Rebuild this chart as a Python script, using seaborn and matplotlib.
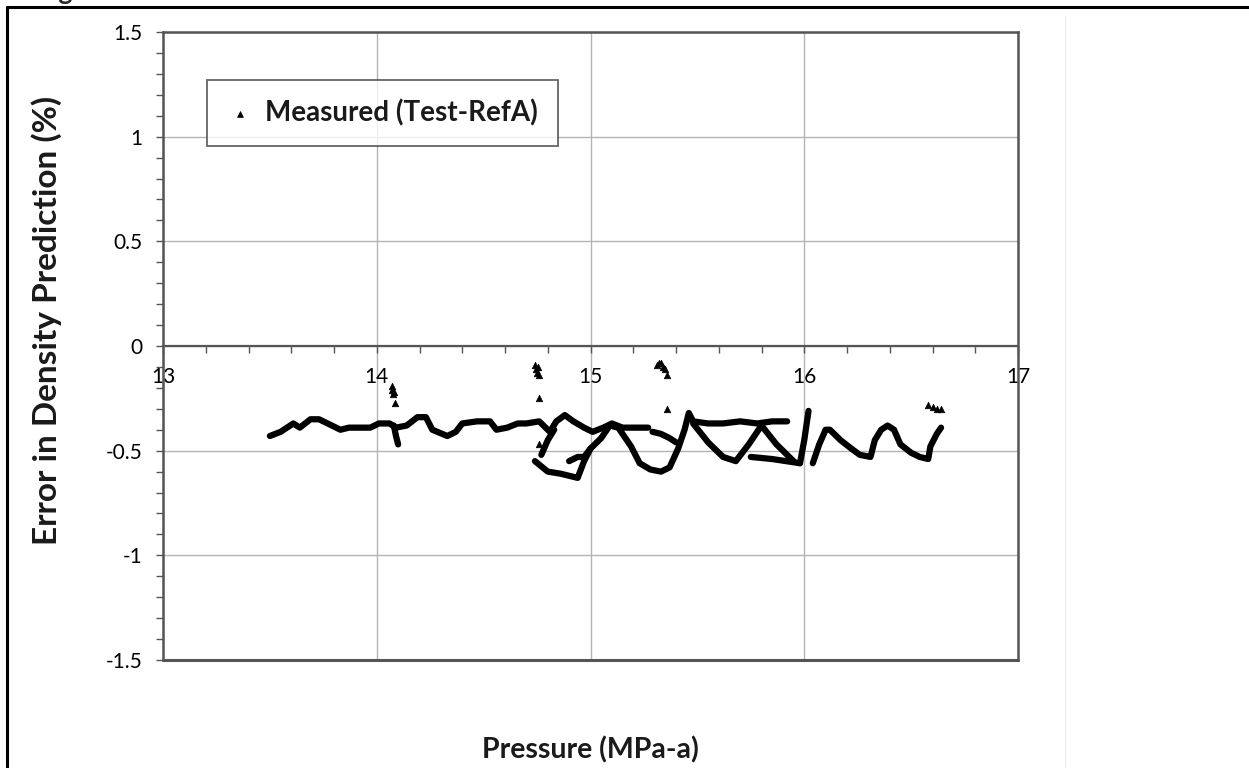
import numpy as np
import pandas as pd
import seaborn as sns
import matplotlib.pyplot as plt
from matplotlib.ticker import MultipleLocator, FuncFormatter
from matplotlib.lines import Line2D

# ---------------- data ----------------
x_ticks = [13, 14, 15, 16, 17]
y_ticks = [-1.5, -1, -0.5, 0, 0.5, 1, 1.5]
series_label = "Measured (Test-RefA)"
x_label = "Pressure (MPa-a)"
y_label = "Error in Density Prediction (%)"

# main band 13.5 -> 15.27
a_x = [13.50, 13.55, 13.61, 13.64, 13.69, 13.73, 13.77, 13.83, 13.87, 13.92, 13.97, 14.01,
       14.06, 14.09, 14.14, 14.19, 14.23, 14.26, 14.33, 14.37, 14.40, 14.47, 14.53, 14.56,
       14.61, 14.66, 14.70, 14.76, 14.81, 14.84, 14.88, 14.92, 14.97, 15.01, 15.06, 15.10,
       15.15, 15.22, 15.27]
a_y = [-0.43, -0.41, -0.37, -0.39, -0.35, -0.35, -0.37, -0.40, -0.39, -0.39, -0.39, -0.37,
       -0.37, -0.39, -0.38, -0.34, -0.34, -0.40, -0.43, -0.41, -0.37, -0.36, -0.36, -0.40,
       -0.39, -0.37, -0.37, -0.36, -0.41, -0.36, -0.33, -0.36, -0.39, -0.41, -0.39, -0.37,
       -0.39, -0.39, -0.39]
# lower loop and upper band 15.47 -> 15.92
b_x = [14.74, 14.80, 14.86, 14.94, 14.97, 15.00, 15.05, 15.09, 15.13, 15.19, 15.23, 15.28,
       15.33, 15.37, 15.41, 15.44, 15.46, 15.48, 15.55, 15.62, 15.70, 15.78, 15.85, 15.92]
b_y = [-0.55, -0.60, -0.61, -0.63, -0.55, -0.49, -0.44, -0.38, -0.39, -0.48, -0.56, -0.59,
       -0.60, -0.58, -0.49, -0.40, -0.32, -0.36, -0.37, -0.37, -0.36, -0.37, -0.36, -0.36]
c_x = [14.77, 14.80, 14.83]
c_y = [-0.52, -0.45, -0.40]
c2_x = [14.90, 14.94, 14.97, 15.00]
c2_y = [-0.55, -0.53, -0.53, -0.49]
d_x = [15.29, 15.33, 15.37, 15.40]
d_y = [-0.41, -0.42, -0.44, -0.46]
e1_x = [15.48, 15.55, 15.62, 15.68, 15.74, 15.80]
e1_y = [-0.37, -0.46, -0.53, -0.55, -0.47, -0.38]
e2_x = [15.80, 15.87, 15.95]
e2_y = [-0.38, -0.47, -0.55]
e3_x = [15.75, 15.85, 15.98]
e3_y = [-0.53, -0.54, -0.56]
f_x = [14.08, 14.09, 14.10]
f_y = [-0.38, -0.43, -0.47]
g_x = [15.98, 16.00, 16.02]
g_y = [-0.56, -0.45, -0.31]
h_x = [16.04, 16.07, 16.10, 16.12, 16.17, 16.22, 16.26, 16.31, 16.33, 16.36, 16.39, 16.42,
       16.45, 16.50, 16.54, 16.58, 16.59, 16.62, 16.64]
h_y = [-0.56, -0.47, -0.40, -0.40, -0.45, -0.49, -0.52, -0.53, -0.45, -0.40, -0.38, -0.40,
       -0.47, -0.51, -0.53, -0.54, -0.48, -0.42, -0.39]

# isolated points
pts_x = [14.07, 14.07, 14.075, 14.08, 14.085, 14.74, 14.745, 14.75, 14.755, 14.76, 14.76,
         14.76, 15.31, 15.32, 15.33, 15.34, 15.35, 15.36, 15.36, 16.58, 16.60, 16.62, 16.64]
pts_y = [-0.19, -0.21, -0.23, -0.22, -0.27, -0.09, -0.11, -0.13, -0.10, -0.14, -0.25,
         -0.47, -0.09, -0.08, -0.08, -0.10, -0.11, -0.14, -0.30, -0.28, -0.29, -0.30, -0.30]

segments = {"a": (a_x, a_y), "b": (b_x, b_y), "c": (c_x, c_y), "c2": (c2_x, c2_y),
            "d": (d_x, d_y), "e1": (e1_x, e1_y), "e2": (e2_x, e2_y), "e3": (e3_x, e3_y),
            "f": (f_x, f_y), "g": (g_x, g_y), "h": (h_x, h_y)}
lines_df = pd.concat([pd.DataFrame({"x": sx, "y": sy, "seg": k}) for k, (sx, sy) in segments.items()],
                     ignore_index=True)
pts_df = pd.DataFrame({"x": pts_x, "y": pts_y})

# ---------------- figure ----------------
sns.set_theme(style="white")
plt.rcParams["font.family"] = ["Lato", "DejaVu Sans"]
plt.rcParams["axes.unicode_minus"] = False

W, H = 1249, 768
fig = plt.figure(figsize=(W / 100, H / 100), dpi=100)
ax = fig.add_axes([163 / W, 1 - 660 / H, (1018 - 163) / W, (660 - 32) / H])

frame_col = "#555555"
grid_col = "#b3b3b3"

sns.lineplot(data=lines_df, x="x", y="y", units="seg", estimator=None, sort=False,
             color="black", lw=4.5, ax=ax, legend=False, solid_capstyle="round")
sns.scatterplot(data=pts_df, x="x", y="y", marker="^", s=22, color="black",
                edgecolor="black", linewidth=0.5, ax=ax, label=series_label, zorder=3)

ax.set_xlim(13, 17)
ax.set_ylim(-1.5, 1.5)
ax.set_xticks(x_ticks)
ax.set_yticks(y_ticks)
ax.xaxis.set_minor_locator(MultipleLocator(0.2))
ax.yaxis.set_minor_locator(MultipleLocator(0.1))
fmt = FuncFormatter(lambda v, p: f"{v:g}")
ax.xaxis.set_major_formatter(fmt)
ax.yaxis.set_major_formatter(fmt)

ax.grid(True, which="major", color=grid_col, lw=1.0)
ax.set_axisbelow(True)

for s in ["left", "right", "top"]:
    ax.spines[s].set_color(frame_col)
    ax.spines[s].set_linewidth(1.8)
ax.spines["bottom"].set_position(("data", 0))
ax.spines["bottom"].set_color(frame_col)
ax.spines["bottom"].set_linewidth(1.6)
ax.axhline(-1.5, color=frame_col, lw=2.2, clip_on=False, zorder=5)

ax.tick_params(axis="x", which="both", direction="out", colors=frame_col, labelcolor="black",
               labelsize=15, bottom=True, pad=10, length=5, width=1)
ax.tick_params(axis="y", which="both", direction="out", colors=frame_col, labelcolor="black",
               labelsize=15, left=True, pad=10, length=5, width=1)

ax.set_xlabel(x_label, fontsize=20.5, fontweight="bold", color="#1a1a1a")
ax.set_ylabel(y_label, fontsize=24, fontweight="bold", color="#1a1a1a")
ax.xaxis.set_label_coords(0.5, -0.121)
ax.yaxis.set_label_coords(-0.118, 0.54)

leg = ax.legend(loc="upper left", bbox_to_anchor=(0.0515, 0.9236), fancybox=False,
                frameon=True, edgecolor="#404040", fontsize=20, borderpad=0.7,
                handlelength=1.0, handletextpad=0.4, markerscale=0.9, borderaxespad=0)
leg.get_frame().set_linewidth(1.3)
for t in leg.get_texts():
    t.set_fontweight("bold")
    t.set_color("#1a1a1a")

# page decorations (frame of the surrounding document)
fig.add_artist(Line2D([7 / W, 7 / W], [0, 1 - 7 / H], transform=fig.transFigure, color="black", lw=2.2))
fig.add_artist(Line2D([7 / W, 1], [1 - 7 / H, 1 - 7 / H], transform=fig.transFigure, color="black", lw=2.2))
fig.add_artist(Line2D([1065 / W, 1065 / W], [0, 1 - 16 / H], transform=fig.transFigure, color="#eeeeee", lw=1))
fig.text(38 / W, 1.0, "Fig", fontsize=19, fontweight="bold", va="baseline", ha="left")

fig.savefig("out.png", dpi=100, facecolor="white")
